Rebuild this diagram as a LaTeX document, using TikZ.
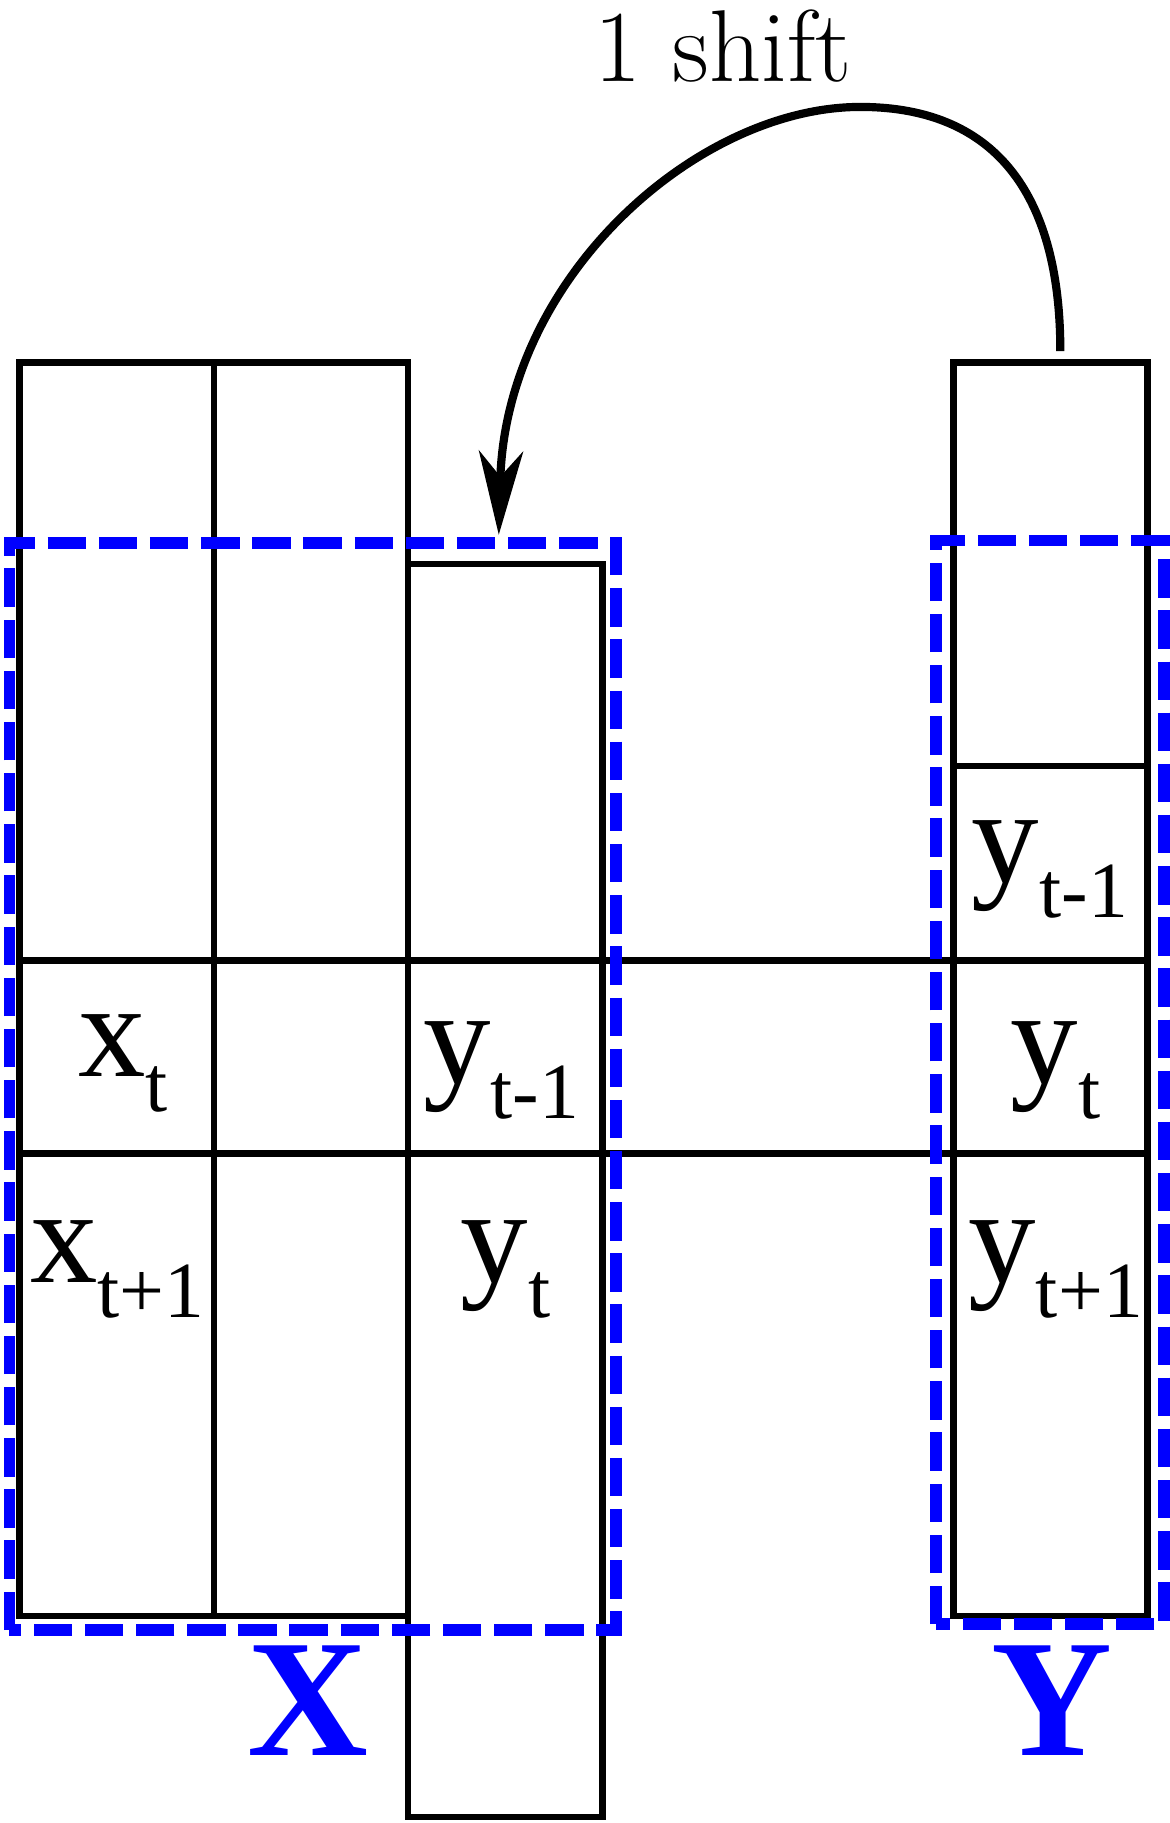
\documentclass[tikz,border=0pt]{standalone}
\usepackage{fontspec}
\newfontfamily\timesfont{Liberation Serif}
\usepackage{tikz}
\usetikzlibrary{arrows.meta, positioning, calc}
\definecolor{winBlue}{HTML}{0000FF}
\tikzset{
  colbox/.style={rectangle, draw=black, line width=1.6pt, minimum width=1.67cm,
                 minimum height=10.78cm, inner sep=0pt, outer sep=0pt},
  rowline/.style={draw=black, line width=1.6pt},
  winbox/.style={draw=winBlue, line width=2.8pt, dash pattern=on 0.33cm off 0.11cm},
  cellTxt/.style={font=\timesfont\fontsize{33}{33}\selectfont, inner sep=0pt},
  winTxt/.style={font=\timesfont\bfseries\fontsize{41}{41}\selectfont, text=winBlue, inner sep=0pt},
  arrowS/.style={-{Stealth[length=0.72cm, width=0.38cm, inset=0.22cm]}, line width=2pt},
}
\newcommand{\cellLbl}[2]{#1\raisebox{-0.3cm}{\fontsize{19.5}{19.5}\selectfont #2}}

\begin{document}
\begin{tikzpicture}
  \useasboundingbox (0,0) rectangle (10.06,15.68);
  % input columns and the shifted target column
  \node[colbox, anchor=north west] (xa) at (0.17,12.56) {};
  \node[colbox, right=0pt of xa] (xb) {};
  \node[colbox, below right=1.73cm and 0pt of xb.north east, anchor=north west] (ys) {};
  \node[colbox, anchor=north west] (yc) at (8.20,12.56) {};

  % rows t and t+1
  \draw[rowline] (xa.west |- 0,7.42) -- (yc.east |- 0,7.42);
  \draw[rowline] (xa.west |- 0,5.76) -- (yc.east |- 0,5.76);
  \draw[rowline] (yc.west |- 0,9.09) -- (yc.east |- 0,9.09);

  % windows
  \draw[winbox] (0.08,1.66) rectangle (5.30,11.01);
  \draw[winbox] (8.05,1.71) rectangle (10.01,11.03);
  \node[winTxt] (xLbl) at (2.65,1.05) {X};
  \node[winTxt] (yLbl) at (9.05,1.05) {Y};

  \node[cellTxt] (xt)   at (1.06,6.53) {\cellLbl{x}{t}};
  \node[cellTxt] (xt1)  at (1.01,4.76) {\cellLbl{x}{t+1}};
  \node[cellTxt] (yst0) at (4.31,6.47) {\cellLbl{y}{t-1}};
  \node[cellTxt] (yst1) at (4.35,4.76) {\cellLbl{y}{t}};
  \node[cellTxt] (yct0) at (9.03,8.20) {\cellLbl{y}{t-1}};
  \node[cellTxt] (yct1) at (9.08,6.47) {\cellLbl{y}{t}};
  \node[cellTxt] (yct2) at (9.08,4.76) {\cellLbl{y}{t+1}};

  % the shift
  \coordinate (src) at ($(yc.north)+(0.085,0.10)$);
  \coordinate (apex) at (7.40,14.76);
  \coordinate (dst) at ($(ys.north)+(-0.055,0.25)$);
  \draw[arrowS] (src) .. controls +(0,1.3) and (8.6,14.76) .. (apex)
    .. controls (6.0,14.76) and (4.35,13.3) .. (dst);
  \node[font=\fontsize{25}{25}\selectfont] (shiftLbl) at (6.22,15.28) {1 shift};
\end{tikzpicture}
\end{document}
